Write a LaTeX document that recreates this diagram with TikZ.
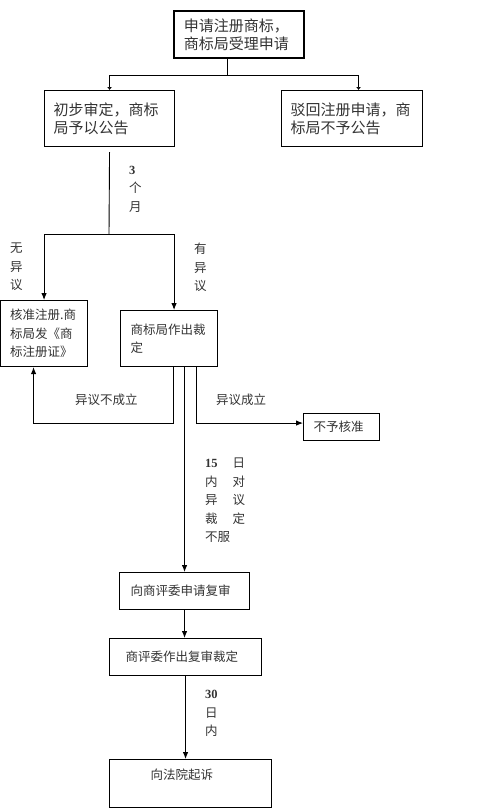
\documentclass[tikz,border=0pt]{standalone}
\usepackage{fontspec}
\setmainfont{Noto Sans CJK SC}
\newfontfamily\numfont{Liberation Serif}
\usetikzlibrary{arrows.meta}
\newcommand\bigcn{\fontsize{15pt}{18pt}\selectfont}
\newcommand\smallcn{\fontsize{12.5pt}{18.5pt}\selectfont}
\newcommand\twochar[2]{\makebox[40pt][s]{#1\hfill #2}}
\newcommand\daynum[1]{{\numfont\bfseries #1}}

\begin{document}
\begin{tikzpicture}[x=1pt, y=-1pt,
    stage/.style={draw, line width=1.1pt, anchor=north west, inner sep=0pt, align=left, text=black!80},
    flow/.style={line width=0.9pt, -{Latex[length=7pt,width=5.5pt]}},
    tinyflow/.style={line width=0.9pt, -{Latex[length=3pt,width=5pt]}},
    note/.style={anchor=north west, inner sep=0pt, align=left, text=black!80, font=\smallcn}]
  \useasboundingbox (0,0) rectangle (500,808);

  % boxes
  \node[stage, line width=1.8pt, font=\bigcn, minimum width=130pt, minimum height=47pt, text width=110pt] (apply) at (173,10) {申请注册商标，\\商标局受理申请};
  \node[stage, font=\bigcn, minimum width=130pt, minimum height=56pt, text width=112pt] (notice) at (44,90) {初步审定，商标\\局予以公告};
  \node[stage, font=\bigcn, minimum width=141pt, minimum height=56pt, text width=123pt] (reject) at (281,90) {驳回注册申请，商\\标局不予公告};
  \node[stage, font=\smallcn, minimum width=87pt, minimum height=66pt, text width=68pt] (grant) at (0,300) {核准注册.商\\标局发《商\\标注册证》};
  \node[stage, font=\smallcn, minimum width=97pt, minimum height=56pt, text width=77pt] (ruling) at (120,310) {商标局作出裁\\定};
  \node[stage, font=\smallcn, minimum width=76pt, minimum height=27pt, text width=56pt] (refuse) at (303,413) {不予核准};
  \node[stage, font=\smallcn, minimum width=130pt, minimum height=37pt, text width=108pt] (review) at (119,572) {向商评委申请复审};
  \node[stage, font=\smallcn, minimum width=152pt, minimum height=37pt, text width=120pt] (decide) at (109,638) {商评委作出复审裁定};
  \node[stage, font=\smallcn, minimum width=162pt, minimum height=48pt, text width=80pt] (court) at (109,759) {向法院起诉\\~};

  % labels
  \node[note] (months) at (129,166) {\daynum{3}\\个\\月};
  \node[note] (noobj) at (10,243) {无\\异\\议};
  \node[note] (hasobj) at (194,243) {有\\异\\议};
  \node[note, anchor=west] (fail) at (75,400) {异议不成立};
  \node[note, anchor=west] (hold) at (216,400) {异议成立};
  \node[note] (within15) at (205,458) {\twochar{\daynum{15}}{日}\\\twochar{内}{对}\\\twochar{异}{议}\\\twochar{裁}{定}\\不服};
  \node[note] (within30) at (205,690) {\daynum{30}\\日\\内};

  % connectors
  \coordinate (fork1) at (227,75);
  \coordinate (fork2) at (109,234);
  \draw[line width=0.9pt] (apply.south -| fork1) -- (fork1);
  \draw[tinyflow] (fork1) -| (notice.north);
  \draw[tinyflow] (fork1) -| ([xshift=6.5pt]reject.north);
  \draw[line width=0.9pt] ([yshift=-5pt]notice.south) -- (fork2);
  \draw[flow] (fork2) -| (grant.north);
  \draw[flow] (fork2) -| ([xshift=5pt]ruling.north);
  \draw[flow] ([xshift=4.5pt]ruling.south) -- ++(0,56) -| ([xshift=-10.5pt]grant.south);
  \draw[flow] ([xshift=27.5pt]ruling.south) |- ([yshift=4pt]refuse.west);
  \draw[flow] (ruling.south -| review.north) -- (review.north);
  \draw[flow] (review.south) -- (review.south |- decide.north);
  \draw[flow] (decide.south) -- (decide.south |- court.north);
\end{tikzpicture}
\end{document}
